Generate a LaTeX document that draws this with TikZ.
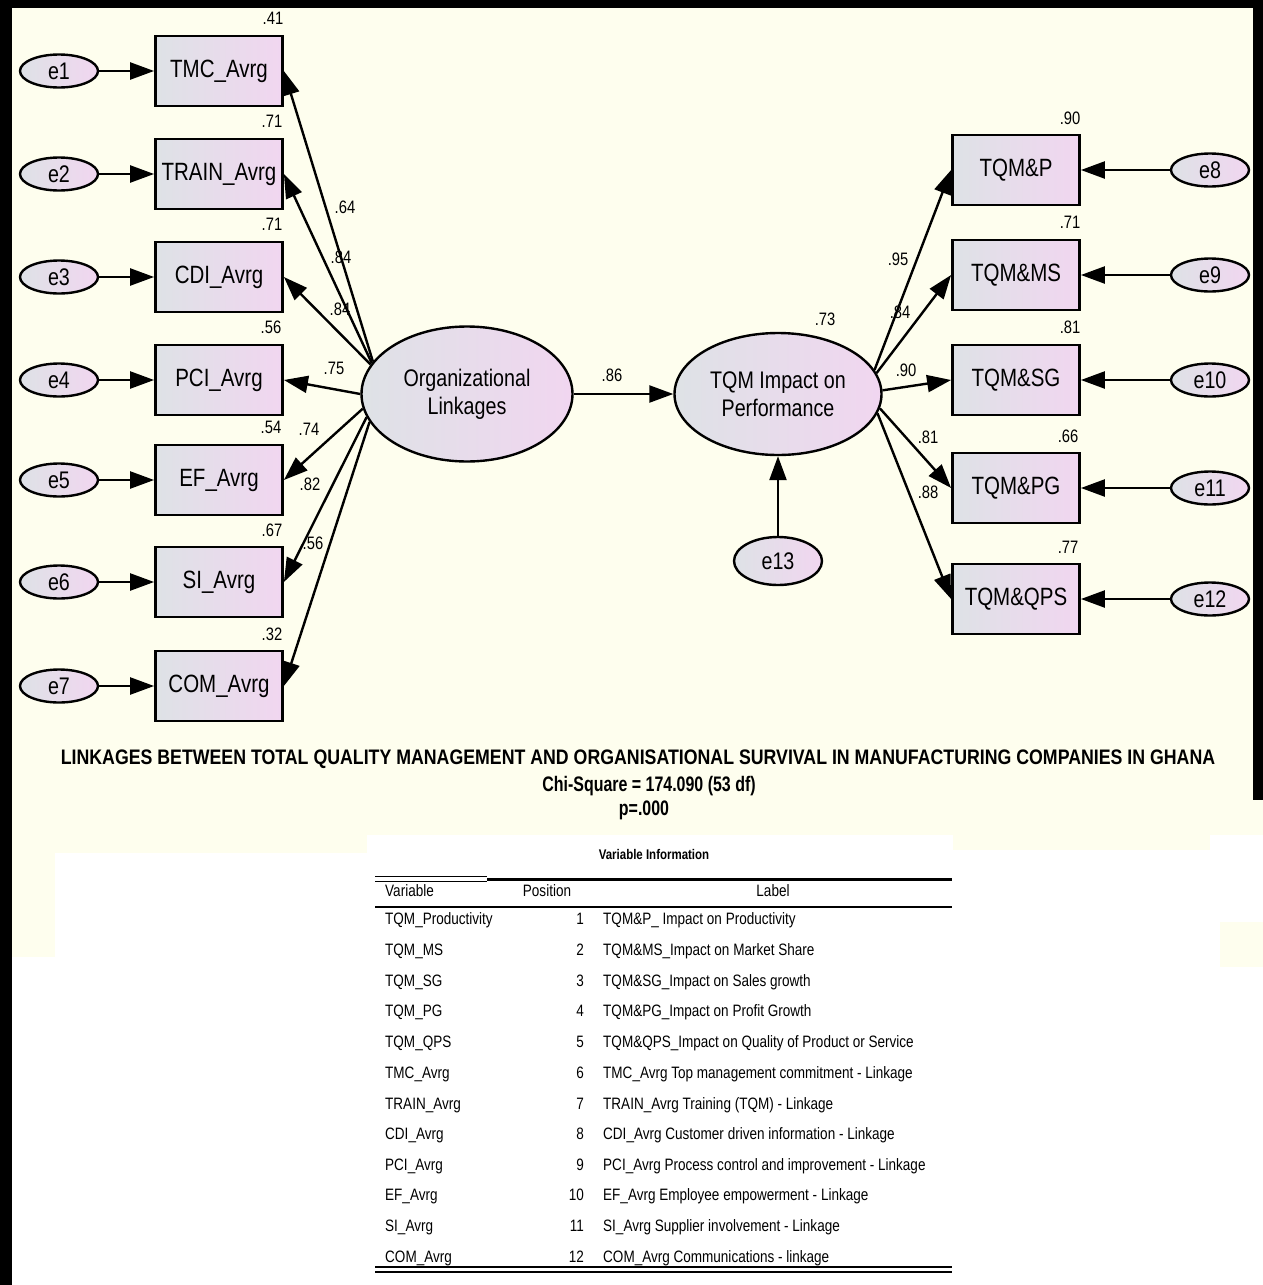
\documentclass[tikz,border=0pt]{standalone}
\usepackage{fontspec}
\setmainfont{Liberation Sans}
\newfontfamily\narrowfont[FakeStretch=0.82]{Liberation Sans}
\newfontfamily\titlefont[FakeStretch=0.845]{Liberation Sans}
\newfontfamily\chifont[FakeStretch=0.76]{Liberation Sans}
\usepackage{tikz}
\usetikzlibrary{arrows.meta,shapes.geometric}

\definecolor{cream}{RGB}{254,254,238}
\definecolor{shadeleft}{RGB}{222,226,230}
\definecolor{shaderight}{RGB}{241,214,240}

\begin{document}
\begin{tikzpicture}[x=1pt,y=-1pt,
	obs/.style={draw,line width=2.8pt,rectangle,minimum width=127pt,minimum height=70pt,inner sep=0pt,left color=shadeleft,right color=shaderight,font=\narrowfont\fontsize{25}{30}\selectfont},
	err/.style={draw,line width=2.4pt,ellipse,minimum width=78pt,minimum height=33pt,inner sep=0pt,left color=shadeleft,right color=shaderight,font=\narrowfont\fontsize{24}{28}\selectfont},
	lat/.style={draw,line width=2.4pt,ellipse,inner sep=0pt,left color=shadeleft,right color=shaderight,align=center,font=\narrowfont\fontsize{24}{28}\selectfont},
	num/.style={inner sep=0pt,font=\narrowfont\fontsize{18}{21}\selectfont},
	arr/.style={line width=2.4pt,-{Triangle[length=24pt,width=17pt]}},
	cell/.style={inner sep=0pt,anchor=base west,font=\narrowfont\fontsize{16.5}{19}\selectfont},
	poscell/.style={cell,anchor=base east},
	]
			\useasboundingbox (0,0) rectangle (1263,1285);
			\fill[white] (0,0) rectangle (1263,1285);
			\fill[cream] (12,8) rectangle (1263,835);
			\fill[cream] (12,835) rectangle (55,957);
			\fill[cream] (55,835) rectangle (367,853);
			\fill[cream] (953,835) rectangle (1210,850);
			\fill[cream] (1220,922) rectangle (1263,967);
			\fill[black] (0,0) rectangle (1263,8);
			\fill[black] (0,0) rectangle (12,1285);
			\fill[black] (1253,0) rectangle (1263,800);
			
			\node[err] (e1)at(59,71) {e1};
			\node[err] (e2)at(59,174) {e2};
			\node[err] (e3)at(59,277) {e3};
			\node[err] (e4)at(59,380) {e4};
			\node[err] (e5)at(59,480) {e5};
			\node[err] (e6)at(59,582) {e6};
			\node[err] (e7)at(59,686) {e7};
			
			\node[obs] (tmc)at(219,71) {TMC\_Avrg};
			\node[obs] (train)at(219,174) {TRAIN\_Avrg};
			\node[obs] (cdi)at(219,277) {CDI\_Avrg};
			\node[obs] (pci)at(219,380) {PCI\_Avrg};
			\node[obs] (ef)at(219,480) {EF\_Avrg};
			\node[obs] (si)at(219,582) {SI\_Avrg};
			\node[obs] (com)at(219,686) {COM\_Avrg};
			
			\node[num] (rtmc)at(273,18) {.41};
			\node[num] (rtrain)at(272,121) {.71};
			\node[num] (rcdi)at(272,224) {.71};
			\node[num] (rpci)at(271,327) {.56};
			\node[num] (ref)at(271,427) {.54};
			\node[num] (rsi)at(272,530) {.67};
			\node[num] (rcom)at(272,634) {.32};
			
			\node[lat,minimum width=211pt,minimum height=135pt] (ol)at(467,394) {Organizational\\Linkages};
			\node[lat,minimum width=207pt,minimum height=122pt] (tqm)at(778,394) {TQM Impact on\\Performance};
			\node[err,minimum width=88pt,minimum height=48pt] (e13)at(778,561) {e13};
			\node[num] (rtqm)at(825,319) {.73};
			
			\node[obs] (tqmp)at(1016,170) {TQM\&P};
			\node[obs] (tqmms)at(1016,275) {TQM\&MS};
			\node[obs] (tqmsg)at(1016,380) {TQM\&SG};
			\node[obs] (tqmpg)at(1016,488) {TQM\&PG};
			\node[obs] (tqmqps)at(1016,599) {TQM\&QPS};
			
			\node[err] (e8)at(1210,170) {e8};
			\node[err] (e9)at(1210,275) {e9};
			\node[err] (e10)at(1210,380) {e10};
			\node[err] (e11)at(1210,488) {e11};
			\node[err] (e12)at(1210,599) {e12};
			
			\node[num] (rtqmp)at(1070,118) {.90};
			\node[num] (rtqmms)at(1070,222) {.71};
			\node[num] (rtqmsg)at(1070,327) {.81};
			\node[num] (rtqmpg)at(1068,436) {.66};
			\node[num] (rtqmqps)at(1068,547) {.77};
			
			\draw[arr] (e1) -- (tmc);
			\draw[arr] (e2) -- (train);
			\draw[arr] (e3) -- (cdi);
			\draw[arr] (e4) -- (pci);
			\draw[arr] (e5) -- (ef);
			\draw[arr] (e6) -- (si);
			\draw[arr] (e7) -- (com);
			
			\draw[arr] (ol.161) -- (tmc.east);
			\draw[arr] (ol.162) -- (train.east);
			\draw[arr] (ol.163) -- (cdi.east);
			\draw[arr] (ol.west) -- (pci.east);
			\draw[arr] (ol.188) -- (ef.east);
			\draw[arr] (ol.193) -- (si.east);
			\draw[arr] (ol.196) -- (com.east);
			
			\draw[arr] (ol) -- (tqm);
			\draw[arr] (e13) -- (tqm);
			
			\draw[arr] (tqm.14) -- (tqmp.west);
			\draw[arr] (tqm.12) -- (tqmms.west);
			\draw[arr] (tqm.2) -- (tqmsg.west);
			\draw[arr] (tqm.-8) -- (tqmpg.west);
			\draw[arr] (tqm.-11) -- (tqmqps.west);
			
			\draw[arr] (e8) -- (tqmp);
			\draw[arr] (e9) -- (tqmms);
			\draw[arr] (e10) -- (tqmsg);
			\draw[arr] (e11) -- (tqmpg);
			\draw[arr] (e12) -- (tqmqps);
			
			\node[num] (ltmc)at(345,207) {.64};
			\node[num] (ltrain)at(341,257) {.84};
			\node[num] (lcdi)at(340,309) {.84};
			\node[num] (lpci)at(334,368) {.75};
			\node[num] (lef)at(309,429) {.74};
			\node[num] (lsi)at(310,484) {.82};
			\node[num] (lcom)at(313,543) {.56};
			\node[num] (ltqm)at(612,375) {.86};
			\node[num] (ltqmp)at(898,259) {.95};
			\node[num] (ltqmms)at(900,312) {.84};
			\node[num] (ltqmsg)at(906,370) {.90};
			\node[num] (ltqmpg)at(928,437) {.81};
			\node[num] (ltqmqps)at(928,492) {.88};
			
			\node[font=\titlefont\bfseries\fontsize{21}{24}\selectfont] (title)at(638,759) {LINKAGES BETWEEN TOTAL QUALITY MANAGEMENT AND ORGANISATIONAL SURVIVAL IN MANUFACTURING COMPANIES IN GHANA};
			\node[font=\chifont\bfseries\fontsize{21}{24}\selectfont] (chi)at(649,786) {Chi-Square = 174.090 (53 df)};
			\node[font=\chifont\bfseries\fontsize{21}{24}\selectfont] (pval)at(644,810) {p=.000};
			
			\node[font=\narrowfont\bfseries\fontsize{14}{17}\selectfont] (varinfo)at(654,854) {Variable Information};
			\draw[line width=1pt] (375,876) -- (487,876);
			\draw[line width=1pt] (375,881) -- (487,881);
			\draw[line width=3pt] (487,879) -- (952,879);
			\draw[line width=2.5pt] (375,907) -- (952,907);
			\draw[line width=1.5pt] (375,1267) -- (952,1267);
			\draw[line width=1.5pt] (375,1272) -- (952,1272);
			
			\node[cell] (hvar)at(385,896) {Variable};
			\node[cell,anchor=base] (hpos)at(547,896) {Position};
			\node[cell,anchor=base] (hlab)at(773,896) {Label};
			
			\node[cell] (v1)at(385,924) {TQM\_Productivity};
			\node[poscell] (p1)at(584,924) {1};
			\node[cell] (l1)at(603,924) {TQM\&P\_ Impact on Productivity};
			\node[cell] (v2)at(385,955) {TQM\_MS};
			\node[poscell] (p2)at(584,955) {2};
			\node[cell] (l2)at(603,955) {TQM\&MS\_Impact on Market Share};
			\node[cell] (v3)at(385,986) {TQM\_SG};
			\node[poscell] (p3)at(584,986) {3};
			\node[cell] (l3)at(603,986) {TQM\&SG\_Impact on Sales growth};
			\node[cell] (v4)at(385,1016) {TQM\_PG};
			\node[poscell] (p4)at(584,1016) {4};
			\node[cell] (l4)at(603,1016) {TQM\&PG\_Impact on Profit Growth};
			\node[cell] (v5)at(385,1047) {TQM\_QPS};
			\node[poscell] (p5)at(584,1047) {5};
			\node[cell] (l5)at(603,1047) {TQM\&QPS\_Impact on Quality of Product or Service};
			\node[cell] (v6)at(385,1078) {TMC\_Avrg};
			\node[poscell] (p6)at(584,1078) {6};
			\node[cell] (l6)at(603,1078) {TMC\_Avrg Top management commitment - Linkage};
			\node[cell] (v7)at(385,1109) {TRAIN\_Avrg};
			\node[poscell] (p7)at(584,1109) {7};
			\node[cell] (l7)at(603,1109) {TRAIN\_Avrg Training (TQM) - Linkage};
			\node[cell] (v8)at(385,1139) {CDI\_Avrg};
			\node[poscell] (p8)at(584,1139) {8};
			\node[cell] (l8)at(603,1139) {CDI\_Avrg Customer driven information - Linkage};
			\node[cell] (v9)at(385,1170) {PCI\_Avrg};
			\node[poscell] (p9)at(584,1170) {9};
			\node[cell] (l9)at(603,1170) {PCI\_Avrg Process control and improvement - Linkage};
			\node[cell] (v10)at(385,1200) {EF\_Avrg};
			\node[poscell] (p10)at(584,1200) {10};
			\node[cell] (l10)at(603,1200) {EF\_Avrg Employee empowerment - Linkage};
			\node[cell] (v11)at(385,1231) {SI\_Avrg};
			\node[poscell] (p11)at(584,1231) {11};
			\node[cell] (l11)at(603,1231) {SI\_Avrg Supplier involvement - Linkage};
			\node[cell] (v12)at(385,1262) {COM\_Avrg};
			\node[poscell] (p12)at(584,1262) {12};
			\node[cell] (l12)at(603,1262) {COM\_Avrg Communications - linkage};
		\end{tikzpicture}
\end{document}
